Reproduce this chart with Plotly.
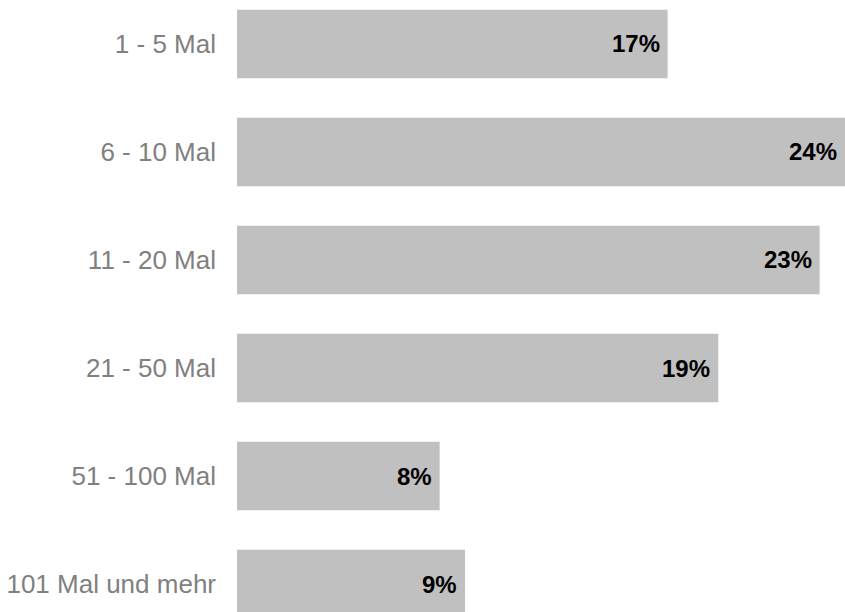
import plotly.graph_objects as go

categories = ["1 - 5 Mal", "6 - 10 Mal", "11 - 20 Mal", "21 - 50 Mal", "51 - 100 Mal", "101 Mal und mehr"]
values = [17, 24, 23, 19, 8, 9]
labels = [f"{v}%" for v in values]

fig = go.Figure()
fig.add_trace(go.Bar(
    x=values, y=categories, orientation="h",
    marker=dict(color="#c0c0c0", line=dict(width=0)),
    width=0.635,
    hoverinfo="skip",
))

for c, v, t in zip(categories, values, labels):
    fig.add_annotation(
        x=v, y=c, text=f"<b>{t}</b>", showarrow=False,
        xanchor="right", yanchor="middle", xshift=-6,
        font=dict(family="Liberation Sans, Arial, sans-serif", size=24, color="#000000"),
    )

fig.update_layout(
    width=845, height=612,
    margin=dict(l=237, r=0, t=0, b=0),
    plot_bgcolor="white", paper_bgcolor="white",
    showlegend=False,
    font=dict(family="Liberation Sans, Arial, sans-serif"),
)
fig.update_xaxes(range=[0, 24], visible=False, showgrid=False, zeroline=False)
fig.update_yaxes(
    type="category", range=[5.259, -0.407],
    showgrid=False, zeroline=False, showline=False, ticks="",
    ticklabelstandoff=20,
    tickfont=dict(family="Liberation Sans, Arial, sans-serif", size=26, color="#808080"),
)

fig.write_html("out.html")
